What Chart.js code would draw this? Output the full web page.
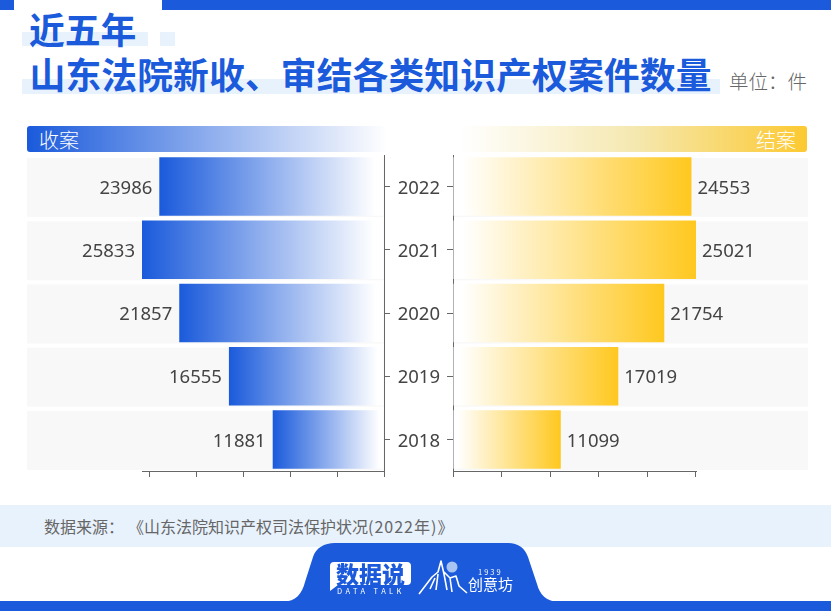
<!DOCTYPE html>
<html lang="zh">
<head>
<meta charset="utf-8">
<title>山东法院知识产权案件数量</title>
<script src="https://cdn.jsdelivr.net/npm/chart.js@4"></script>
<style>
    html, body { margin: 0; padding: 0; background: #fff; }
    body { width: 831px; height: 611px; position: relative; overflow: hidden; font-family: "Noto Sans CJK SC", "Noto Sans", sans-serif; }
    .abs { position: absolute; }
    .blue { background: #1a5adb; }
    .mark { background: #e8f2fd; }
    .title { color: #1a5adb; font-size: 35.8px; font-weight: 700; line-height: 40px; white-space: nowrap; }
    canvas { position: absolute; }
</style>
</head>
<body>
<div class="abs blue" style="left:0;top:0;width:14px;height:10px"></div>
<div class="abs blue" style="left:162px;top:0;width:669px;height:10px"></div>
<div class="abs mark" style="left:22px;top:32px;width:126px;height:14px"></div>
<div class="abs mark" style="left:160px;top:32px;width:15px;height:14px"></div>
<div class="abs mark" style="left:22px;top:79px;width:698px;height:15px"></div>
<div class="abs title" style="left:29px;top:8px">近五年</div>
<div class="abs title" style="left:29.5px;top:53px;letter-spacing:0.1px">山东法院新收、审结各类知识产权案件数量</div>
<div class="abs" style="left:729px;top:67px;font-size:19.5px;font-weight:300;line-height:28px;color:#666;white-space:nowrap">单位：件</div>

<div class="abs" style="left:27px;top:126px;width:360px;height:26px;border-radius:3px;background:linear-gradient(90deg,#1a5adb,#ffffff)"></div>
<div class="abs" style="left:39px;top:126px;font-size:20px;font-weight:300;line-height:27px;color:#fff">收案</div>
<div class="abs" style="left:461px;top:126px;width:346px;height:26px;border-radius:3px;background:linear-gradient(90deg,#ffffff,#f5e8b0 50%,#fcc931)"></div>
<div class="abs" style="right:35px;top:126px;font-size:20px;font-weight:300;line-height:27px;color:#fff">结案</div>

<canvas id="leftChart" width="365" height="335" style="left:27px;top:150px"></canvas>
<canvas id="rightChart" width="415" height="335" style="left:393px;top:150px"></canvas>

<div class="abs mark" style="left:0;top:505px;width:831px;height:42px"></div>
<div class="abs" style="left:44px;top:505px;font-size:16px;line-height:42px;color:#666;white-space:nowrap">数据来源：<span style="margin-left:12px">《山东法院知识产权司法保护状况</span><span style="letter-spacing:1px">(2022年)</span>》</div>

<div class="abs blue" style="left:0;top:601px;width:831px;height:10px"></div>
<svg class="abs" style="left:0;top:0" width="831" height="611" viewBox="0 0 831 611">
    <path fill="#1a5adb" d="M283 602 C296 601 302 594 305 582 L313 557 C316 548 324 543 335 543 L507 543 C518 543 525 548 528 557 L537 584 C540 595 546 601 558 602 Z"/>
    <path fill="#fff" d="M334 562 L407 562 Q411 562 411 566 L411 581 Q411 585 407 585 L338 585 L330 591 L330 566 Q330 562 334 562 Z"/>
    <circle cx="452" cy="567" r="5.5" fill="#a9c4f2"/>
    <path fill="none" stroke="#fff" stroke-width="1.6" stroke-linejoin="round" d="M419 594 L432 577 L438 572 L441 561 L444 574 L447 590 M436 590 L438 574 M430 589 L435 578 M444 572 L450 578 L456 576 L459 586 L467 593 M450 578 L452 592"/>
</svg>
<div class="abs" style="left:330px;top:561px;width:81px;text-align:center;font-size:23px;font-weight:900;line-height:25px;color:#1a5adb;white-space:nowrap">数据说</div>
<div class="abs" style="left:337px;top:586px;font-size:7.5px;line-height:10px;letter-spacing:3.4px;color:#fff;white-space:nowrap">DATA TALK</div>
<div class="abs" style="left:478px;top:567px;font-size:7.5px;line-height:10px;letter-spacing:2px;color:#fff">1939</div>
<div class="abs" style="left:468px;top:575px;font-size:15px;line-height:18px;color:#fff;white-space:nowrap">创意坊</div>

<script>
const years = ['2022', '2021', '2020', '2019', '2018'];
const received = [23986, 25833, 21857, 16555, 11881];
const closed = [24553, 25021, 21754, 17019, 11099];
const axisTicks = [0, 5000, 10000, 15000, 20000, 25000];

const textColor = '#444';
const axisColor = '#666';
const labelFont = '18.5px "Noto Sans", "Noto Sans CJK SC", sans-serif';

// gradient runs the length of each bar, white at the axis end
function barGradient(ctx, colour) {
    if (ctx.type !== 'data' || !ctx.chart.chartArea) return colour;
    const scale = ctx.chart.scales.x;
    const g = ctx.chart.ctx.createLinearGradient(scale.getPixelForValue(ctx.raw), 0, scale.getPixelForValue(0), 0);
    g.addColorStop(0, colour);
    g.addColorStop(0.96, '#ffffff');
    g.addColorStop(1, '#ffffff');
    return g;
}

// grey rows behind the bars, value labels at the bar ends, years beside the axis
const rowsPlugin = {
    id: 'rows',
    beforeDraw(chart) {
        const { ctx, chartArea, scales, width } = chart;
        const isLeft = chart.options.plugins.rows.side === 'left';
        const x0 = isLeft ? 0 : chartArea.left;
        const x1 = isLeft ? chartArea.right : width;
        ctx.save();
        ctx.fillStyle = '#f8f8f8';
        years.forEach((y, i) => {
            ctx.fillRect(x0, scales.y.getPixelForValue(i) - 28.5, x1 - x0, 59);
        });
        ctx.restore();
    },
    afterDatasetsDraw(chart) {
        const { ctx, chartArea, scales } = chart;
        const isLeft = chart.options.plugins.rows.side === 'left';
        const values = chart.data.datasets[0].data;
        ctx.save();
        ctx.font = labelFont;
        ctx.fillStyle = textColor;
        ctx.textBaseline = 'middle';
        ctx.textAlign = isLeft ? 'right' : 'left';
        values.forEach((v, i) => {
            const x = scales.x.getPixelForValue(v) + (isLeft ? -7 : 6);
            ctx.fillText(String(v), x, scales.y.getPixelForValue(i) + 2);
        });
        if (!isLeft) {
            ctx.textAlign = 'right';
            years.forEach((y, i) => {
                ctx.fillText(y, chartArea.left - 13, scales.y.getPixelForValue(i) + 2);
            });
        }
        ctx.restore();
    }
};

function makeChart(id, values, colour, side) {
    const isLeft = side === 'left';
    return new Chart(document.getElementById(id).getContext('2d'), {
        type: 'bar',
        plugins: [rowsPlugin],
        data: {
            labels: years,
            datasets: [{
                data: values,
                backgroundColor: ctx => barGradient(ctx, colour),
                borderWidth: 0,
                categoryPercentage: 1,
                barPercentage: 0.925
            }]
        },
        options: {
            indexAxis: 'y',
            responsive: false,
            animation: false,
            layout: {
                padding: isLeft
                    ? { left: 115, top: 5, bottom: 8, right: 0 }
                    : { left: 0, top: 5, bottom: 8, right: 112 }
            },
            plugins: {
                legend: { display: false },
                tooltip: { enabled: false },
                rows: { side: side }
            },
            scales: {
                x: {
                    reverse: isLeft,
                    min: 0,
                    max: Math.max(...values),
                    afterBuildTicks: scale => { scale.ticks = axisTicks.map(v => ({ value: v })); },
                    afterFit: scale => { scale.height = 6; },
                    ticks: { display: false },
                    grid: { drawOnChartArea: false, drawTicks: true, tickLength: 6, color: axisColor },
                    border: { color: axisColor, width: 1 }
                },
                y: {
                    position: isLeft ? 'right' : 'left',
                    afterFit: scale => { scale.width = isLeft ? 8 : 60; },
                    ticks: { display: false },
                    grid: { offset: false, drawOnChartArea: false, drawTicks: true, tickLength: 6, color: axisColor },
                    border: { color: axisColor, width: 1 }
                }
            }
        }
    });
}

makeChart('leftChart', received, '#1a5adb', 'left');
makeChart('rightChart', closed, '#ffc81f', 'right');
</script>
</body>
</html>
